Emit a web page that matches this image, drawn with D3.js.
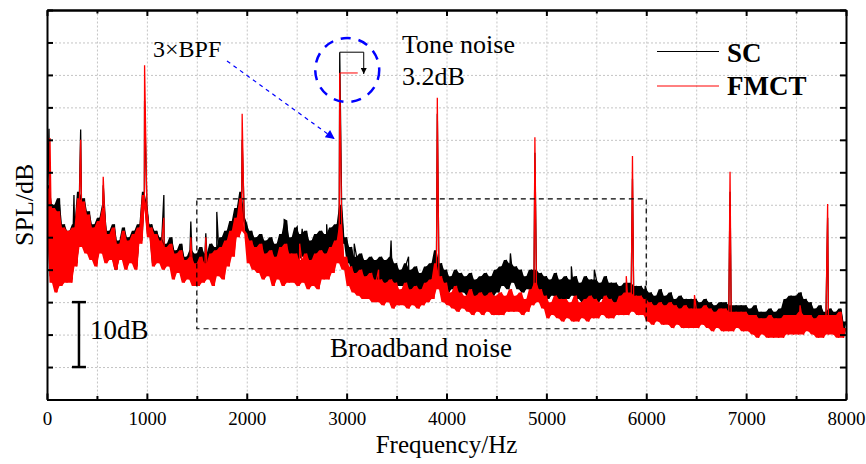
<!DOCTYPE html>
<html>
<head>
<meta charset="utf-8">
<script src="https://cdn.jsdelivr.net/npm/d3@7"></script>
<style>
  body { margin: 0; background: #fff; }
  svg text { font-family: "Liberation Serif", "Times New Roman", serif; fill: #000; }
  .grid line { stroke: #c4c4c4; stroke-dasharray: 2,2; }
  .grid path { display: none; }
  .axis path, .axis line { stroke: #000; stroke-width: 2; }
</style>
</head>
<body>
<div id="chart"></div>
<script>
// frequency grid of the spectrum, Hz
var freqStep = 25;
var freqMax = 8000;

// SC spectrum, dB, one value every 25 Hz (0 ... 8000)
var scLevels = [
  48, 53, 39, 50, 37, 51, 38, 47, 39, 46, 38.5, 47, 41, 52, 44, 51, 43, 49, 42, 47,
  41, 48, 43, 50, 41.5, 46, 42, 47, 40, 44.5, 42, 46.5, 40.5, 45, 41.5, 46, 40.5, 47, 44.5, 52,
  50, 45.5, 47, 41, 46, 42, 45, 40.5, 44, 41.5, 45, 39.5, 43, 40.5, 44, 39, 42, 39.5, 43, 38.5,
  42.5, 40, 43.5, 39.5, 42.5, 41, 44, 40, 43.5, 41.5, 45, 41, 46, 43, 47.5, 44, 49.5, 47, 52, 48,
  47, 43, 46, 42.5, 45, 41.5, 45.5, 40.5, 44.5, 41.5, 45, 40, 44, 41, 45.5, 40.5, 47.5, 41, 45, 42,
  46.5, 41.5, 45.5, 42, 46, 40.5, 44.5, 41, 45.5, 40.5, 46, 42, 45.5, 41.5, 46.5, 42.5, 47, 43, 50, 44,
  45, 41, 43.5, 39.5, 42, 38.5, 42.5, 38, 41.5, 38.5, 42, 37.5, 41.5, 38, 42, 37.5, 41.5, 38, 42, 37,
  41, 37.5, 40, 37.5, 41, 36.5, 40, 37, 40.5, 36.5, 39.5, 37, 40.5, 37.5, 41, 37.5, 43, 39, 41, 37.5,
  40, 36.5, 39, 37, 40, 36, 39.5, 36.5, 39, 36, 39.5, 35.5, 38.5, 36, 39, 35.5, 39.5, 36, 39, 36,
  40, 36.5, 40.5, 37.5, 41.5, 37, 41, 38, 40.5, 37, 40, 36.5, 39, 37, 40, 36.5, 40, 37, 39.5, 36,
  39, 35.5, 38.5, 36, 39.5, 35.5, 38.5, 35, 39, 35.5, 38.5, 36, 39, 35.5, 38, 35, 39, 35.5, 38.5, 35,
  38.5, 35, 38, 35.5, 39, 34.5, 38, 35, 38, 34.5, 37.5, 35, 38, 34.5, 38, 35, 37.5, 34.5, 37.5, 34.5,
  37, 33.5, 36.5, 33.5, 36, 33, 37, 32.5, 36, 33, 36.5, 33, 35.5, 32.5, 36, 33, 35.5, 32.5, 35.5, 32.5,
  35.5, 32.5, 35, 33, 35.5, 32, 35, 32.5, 34.5, 32, 35, 31.5, 35, 32, 34.5, 31.5, 34.5, 32, 34.5, 31.5,
  34.5, 31.5, 34, 31, 34.5, 30.5, 33.5, 31, 33.5, 30.5, 34, 30.5, 33.5, 31, 34, 31, 35.5, 32, 36, 32.5,
  36, 32.5, 36.5, 32.5, 35.5, 32.5, 35, 31.5, 34, 31.5, 34.5, 31, 33.5, 31, 34, 31.5, 33.5, 30.5, 34, 30.5,
  32
];

// FMCT spectrum, dB, same grid
var fmctLevels = [
  47.5, 52.5, 38, 49.5, 36.5, 49, 37.5, 46.5, 38, 46, 38, 46.5, 40.5, 51, 43.5, 50.5, 42.5, 48.5, 41.5, 46.5,
  40.5, 47.5, 42.5, 49.5, 41, 45.5, 41.5, 46.5, 40, 44, 41.5, 46, 40, 44.5, 41, 45.5, 40, 46.5, 44, 51.5,
  49.5, 45, 46.5, 40.5, 45.5, 41, 44.5, 40, 43.5, 40.5, 44, 38.5, 42.5, 39.5, 43, 38, 41.5, 38.5, 42, 37.5,
  41, 37.5, 42, 38, 41, 38.5, 42.5, 37.5, 43, 39, 43.5, 38.5, 44.5, 40.5, 46, 42, 48, 45, 51, 46,
  45.5, 41, 44.5, 40, 43.5, 39.5, 44, 38.5, 42.5, 39, 43, 37.5, 42, 38.5, 43.5, 37.5, 44, 38, 42.5, 38,
  42.5, 37.5, 41.5, 38, 42.5, 37, 41.5, 37.5, 42.5, 37, 43, 38.5, 42.5, 38.5, 43.5, 39.5, 44.5, 41, 47, 40,
  42, 37.5, 40.5, 36.5, 39.5, 36, 40, 35.5, 39, 35.5, 39.5, 35, 38.5, 35, 38.5, 34.5, 38, 35, 38.5, 34,
  38, 34.5, 37, 34.5, 38, 34, 37, 34.5, 37.5, 34, 37, 34.5, 38, 35, 38.5, 35.5, 41, 37, 39, 35,
  38, 34.5, 36.5, 34, 37.5, 33.5, 36.5, 34, 36, 33.5, 37, 33, 36, 33.5, 36.5, 33, 36, 33.5, 36.5, 33,
  36, 33, 36.5, 33, 36, 33.5, 37, 33.5, 36, 33.5, 36.5, 33, 35.5, 33.5, 37, 34.5, 38, 35, 37, 34,
  36, 32.5, 35, 33, 36, 32.5, 35.5, 32, 35.5, 32.5, 35, 32, 36, 32, 35, 32.5, 35.5, 32, 36, 32.5,
  35.5, 32.5, 35, 33, 36, 32.5, 35.5, 32.5, 35, 33, 36, 33, 36.5, 33, 36.5, 33.5, 36, 33, 36, 33,
  35.5, 32, 35, 31.5, 34.5, 32, 35, 31.5, 34.5, 31.5, 35, 31, 34.5, 31.5, 34, 31, 34.5, 31, 34, 31,
  34, 31, 34, 31.5, 34.5, 31, 34, 30.5, 33.5, 31, 34, 30.5, 34, 30.5, 33.5, 30.5, 33.5, 31, 33.5, 30.5,
  33.5, 30.5, 33, 30, 33, 29.5, 32.5, 30, 32.5, 29.5, 33, 29.5, 32.5, 29.5, 32.5, 29.5, 33, 30, 33, 30,
  33, 30, 33.5, 30, 33, 30.5, 33, 30, 32.5, 29.5, 33, 29.5, 33, 30, 33, 30, 33, 29.5, 33.5, 29.5,
  31
];

// tonal peaks and narrow spikes [Hz, dB]
var scPeaks = [
  [20, 61.7], [270, 51.5], [337, 61.6], [563, 53], [977, 66], [1170, 51.5], [1440, 47.4],
  [1590, 45.6], [1700, 48.9], [1954, 60], [2375, 47.7], [2505, 46.6], [2555, 46.3],
  [2800, 47], [2931, 73.5], [3076, 44], [3445, 44.5], [3620, 42], [3908, 64], [4640, 42.5],
  [4885, 58], [5250, 40.5], [5480, 40], [5862, 54], [5990, 37.5], [6839, 52], [7816, 48]
];
var fmctPeaks = [
  [30, 60.3], [337, 60], [563, 54.3], [977, 71.5], [1170, 48], [1440, 45], [1590, 45],
  [1954, 64], [2530, 44], [2931, 70.3], [3320, 40], [3908, 66.5], [4885, 60.4],
  [5800, 39], [5862, 57.5], [6483, 36.1], [6839, 55.1], [7540, 34.5], [7816, 50.1]
];

// axis ticks
var xTicks = [0, 1000, 2000, 3000, 4000, 5000, 6000, 7000, 8000];
var xMinorTicks = [500, 1500, 2500, 3500, 4500, 5500, 6500, 7500];
var yTicks = [20, 25, 30, 35, 40, 45, 50, 55, 60, 65, 70, 75, 80];

// annotation values
var bpfTone = 2931;
var boxBand = { f0: 1500, f1: 6000, lo: 30.9, hi: 50.9 };
var scaleBar = { f: 320, lo: 25, hi: 35 };

var svgWidth = 866;
var svgHeight = 464;
var margin = { top: 10, right: 20, bottom: 64.5, left: 47 };
var chartWidth = svgWidth - margin.left - margin.right;
var chartHeight = svgHeight - margin.top - margin.bottom;

var svg = d3.select('#chart')
  .append('svg')
  .attr('width', svgWidth)
  .attr('height', svgHeight);

var defs = svg.append('defs');
defs.append('clipPath').attr('id', 'plotClip')
  .append('rect').attr('width', chartWidth).attr('height', chartHeight);

defs.append('marker')
  .attr('id', 'blueHead')
  .attr('viewBox', '0 0 10 10')
  .attr('refX', 10).attr('refY', 5)
  .attr('markerWidth', 11).attr('markerHeight', 9)
  .attr('markerUnits', 'userSpaceOnUse')
  .attr('orient', 'auto')
  .append('path').attr('d', 'M0,0L10,5L0,10z').attr('fill', '#0000ff');

defs.append('marker')
  .attr('id', 'blackHead')
  .attr('viewBox', '0 0 10 10')
  .attr('refX', 10).attr('refY', 5)
  .attr('markerWidth', 9).attr('markerHeight', 6)
  .attr('markerUnits', 'userSpaceOnUse')
  .attr('orient', 'auto')
  .append('path').attr('d', 'M0,0L10,5L0,10z').attr('fill', '#000');

var chartGroup = svg.append('g')
  .attr('transform', `translate(${margin.left}, ${margin.top})`);

var xScale = d3.scaleLinear().domain([0, freqMax]).range([0, chartWidth]);
var yScale = d3.scaleLinear().domain([20, 80]).range([chartHeight, 0]);

// grid
chartGroup.append('g')
  .attr('class', 'grid')
  .attr('transform', `translate(0, ${chartHeight})`)
  .call(d3.axisBottom(xScale).tickValues(xTicks.concat(xMinorTicks)).tickSize(-chartHeight).tickFormat(''));
chartGroup.append('g')
  .attr('class', 'grid')
  .call(d3.axisLeft(yScale).tickValues(yTicks).tickSize(-chartWidth).tickFormat(''));

// merge the 25 Hz grid with the spikes
function buildSeries(levels, peaks) {
  var pts = levels.map((v, i) => ({ f: i * freqStep, v: v }));
  peaks.forEach(p => pts.push({ f: p[0], v: p[1] }));
  pts.sort((a, b) => a.f - b.f);
  return pts;
}

// spread between neighbouring samples, drawn as the dense noise band
function buildBand(levels) {
  return levels.map((v, i) => {
    var w = levels[Math.min(i + 1, levels.length - 1)];
    return { f: i * freqStep, lo: Math.min(v, w), hi: Math.max(v, w) };
  });
}

var line = d3.line()
  .x(d => xScale(d.f))
  .y(d => yScale(d.v));

var band = d3.area()
  .x(d => xScale(d.f))
  .y0(d => yScale(d.lo))
  .y1(d => yScale(d.hi));

var plotArea = chartGroup.append('g').attr('clip-path', 'url(#plotClip)');

[[scLevels, scPeaks, '#000'], [fmctLevels, fmctPeaks, '#ff0000']].forEach(s => {
  plotArea.append('path')
    .datum(buildBand(s[0]))
    .attr('fill', s[2])
    .attr('d', band);
  plotArea.append('path')
    .datum(buildSeries(s[0], s[1]))
    .attr('fill', 'none')
    .attr('stroke', s[2])
    .attr('stroke-width', 1.3)
    .attr('d', line);
});

// axes, ticks pointing inward
chartGroup.append('g')
  .attr('class', 'axis')
  .attr('transform', `translate(0, ${chartHeight})`)
  .call(d3.axisBottom(xScale).tickValues(xTicks).tickSizeInner(-6).tickSizeOuter(0).tickPadding(12).tickFormat(d3.format('d')))
  .selectAll('text')
  .style('font-size', '19px');
chartGroup.append('g')
  .attr('class', 'axis')
  .attr('transform', `translate(0, ${chartHeight})`)
  .call(d3.axisBottom(xScale).tickValues(xMinorTicks).tickSizeInner(-3.5).tickSizeOuter(0).tickFormat(''));
chartGroup.append('g')
  .attr('class', 'axis')
  .call(d3.axisTop(xScale).tickValues(xTicks).tickSizeInner(-6).tickSizeOuter(0).tickFormat(''));
chartGroup.append('g')
  .attr('class', 'axis')
  .call(d3.axisTop(xScale).tickValues(xMinorTicks).tickSizeInner(-3.5).tickSizeOuter(0).tickFormat(''));
chartGroup.append('g')
  .attr('class', 'axis')
  .call(d3.axisLeft(yScale).tickValues(yTicks).tickSizeInner(-6).tickSizeOuter(0).tickFormat(''));
chartGroup.append('g')
  .attr('class', 'axis')
  .attr('transform', `translate(${chartWidth}, 0)`)
  .call(d3.axisRight(yScale).tickValues(yTicks).tickSizeInner(-6).tickSizeOuter(0).tickFormat(''));

// axis titles
chartGroup.append('text')
  .attr('x', chartWidth / 2)
  .attr('y', chartHeight + 53)
  .attr('text-anchor', 'middle')
  .style('font-size', '25px')
  .text('Frequency/Hz');
chartGroup.append('text')
  .attr('transform', `translate(${-14}, ${chartHeight / 2}) rotate(-90)`)
  .attr('text-anchor', 'middle')
  .style('font-size', '26px')
  .text('SPL/dB');

// broadband noise box
chartGroup.append('rect')
  .attr('x', xScale(boxBand.f0))
  .attr('y', yScale(boxBand.hi))
  .attr('width', xScale(boxBand.f1) - xScale(boxBand.f0))
  .attr('height', yScale(boxBand.lo) - yScale(boxBand.hi))
  .attr('fill', 'none')
  .attr('stroke', '#000')
  .attr('stroke-width', 1.2)
  .attr('stroke-dasharray', '5,4');
chartGroup.append('text')
  .attr('x', 374)
  .attr('y', 347)
  .attr('text-anchor', 'middle')
  .style('font-size', '27px')
  .text('Broadband noise');

// 10 dB scale bar
var sb = chartGroup.append('g').attr('stroke', '#000').attr('stroke-width', 2.5);
sb.append('line')
  .attr('x1', xScale(scaleBar.f)).attr('x2', xScale(scaleBar.f))
  .attr('y1', yScale(scaleBar.hi)).attr('y2', yScale(scaleBar.lo));
[scaleBar.hi, scaleBar.lo].forEach(v => {
  sb.append('line')
    .attr('x1', xScale(scaleBar.f) - 7).attr('x2', xScale(scaleBar.f) + 7)
    .attr('y1', yScale(v)).attr('y2', yScale(v));
});
chartGroup.append('text')
  .attr('x', 43)
  .attr('y', 329)
  .style('font-size', '27px')
  .text('10dB');

// 3xBPF label with dashed arrow
chartGroup.append('text')
  .attr('x', 106)
  .attr('y', 47)
  .style('font-size', '24px')
  .text('3×BPF');
chartGroup.append('line')
  .attr('x1', 180).attr('y1', 51)
  .attr('x2', xScale(bpfTone) - 5).attr('y2', 129)
  .attr('stroke', '#0000ff')
  .attr('stroke-width', 1.2)
  .attr('stroke-dasharray', '4,4')
  .attr('marker-end', 'url(#blueHead)');

// tone noise reduction marker
var scTop = scPeaks.find(p => p[0] === bpfTone)[1];
var fmctTop = fmctPeaks.find(p => p[0] === bpfTone)[1];
var tx = xScale(bpfTone);
chartGroup.append('circle')
  .attr('cx', tx + 7.5)
  .attr('cy', 60)
  .attr('r', 32)
  .attr('fill', 'none')
  .attr('stroke', '#0000ff')
  .attr('stroke-width', 2.5)
  .attr('stroke-dasharray', '10,8');
chartGroup.append('line')
  .attr('x1', tx).attr('x2', tx + 24)
  .attr('y1', yScale(scTop)).attr('y2', yScale(scTop))
  .attr('stroke', '#000').attr('stroke-width', 1);
chartGroup.append('line')
  .attr('x1', tx).attr('x2', tx + 18)
  .attr('y1', yScale(fmctTop)).attr('y2', yScale(fmctTop))
  .attr('stroke', '#ff0000').attr('stroke-width', 1);
chartGroup.append('line')
  .attr('x1', tx + 24).attr('x2', tx + 24)
  .attr('y1', yScale(scTop)).attr('y2', yScale(fmctTop) + 1)
  .attr('stroke', '#000').attr('stroke-width', 1)
  .attr('marker-end', 'url(#blackHead)');
chartGroup.append('text')
  .attr('x', 355)
  .attr('y', 42.5)
  .style('font-size', '26px')
  .text('Tone noise');
chartGroup.append('text')
  .attr('x', 355)
  .attr('y', 75)
  .style('font-size', '26px')
  .text('3.2dB');

// legend
var legend = chartGroup.append('g').attr('transform', 'translate(610, 0)');
[['SC', '#000'], ['FMCT', '#ff0000']].forEach((s, i) => {
  legend.append('line')
    .attr('x1', 0).attr('x2', 62)
    .attr('y1', 41.5 + i * 34.5).attr('y2', 41.5 + i * 34.5)
    .attr('stroke', s[1]).attr('stroke-width', 1);
  legend.append('text')
    .attr('x', 70)
    .attr('y', 51.5 + i * 33.5)
    .style('font-size', '27px')
    .style('font-weight', 'bold')
    .text(s[0]);
});
</script>
</body>
</html>
